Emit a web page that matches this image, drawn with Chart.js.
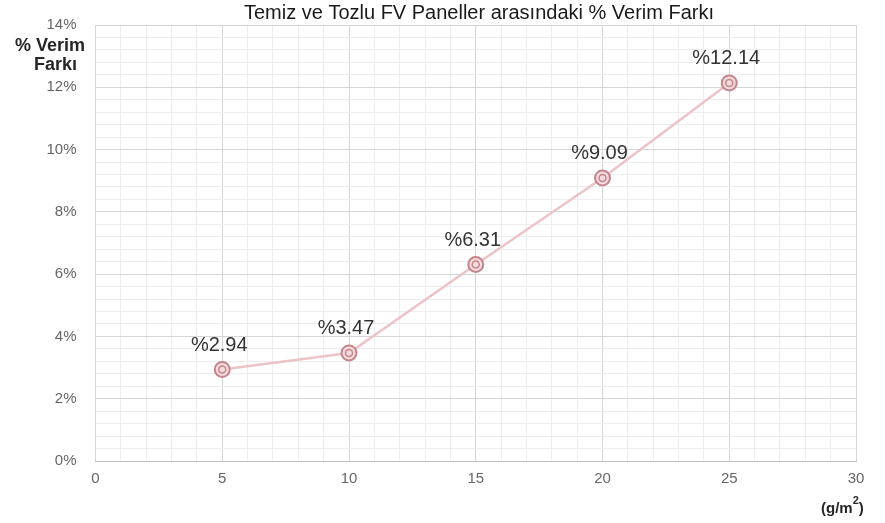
<!DOCTYPE html>
<html>
<head>
<meta charset="utf-8">
<script src="https://cdn.jsdelivr.net/npm/chart.js@4/dist/chart.umd.min.js"></script>
<style>
  html, body { margin: 0; padding: 0; background: #fff; }
  #wrap { width: 885px; height: 523px; }
</style>
</head>
<body>
<div id="wrap"><canvas id="chart"></canvas></div>
<script>
// Dust density (g/m2) vs. efficiency difference (%)
const dustLevels = [5, 10, 15, 20, 25];
const efficiencyDiff = [2.94, 3.47, 6.31, 9.09, 12.14];
const valueLabels = ['%2.94', '%3.47', '%6.31', '%9.09', '%12.14'];

const chartTitle = 'Temiz ve Tozlu FV Paneller arasındaki % Verim Farkı';
const yTitle = ['% Verim', 'Farkı'];
const xTitle = '(g/m';

const points = dustLevels.map((x, i) => ({ x, y: efficiencyDiff[i] }));

const isMultiple = (v, step) => Math.abs(v / step - Math.round(v / step)) < 1e-6;
const FONT = '"Liberation Sans", Arial, sans-serif';

// Title, axis captions and value labels drawn on the canvas
const textPlugin = {
  id: 'texts',
  afterDatasetsDraw(chart) {
    const ctx = chart.ctx;
    ctx.save();
    ctx.fillStyle = '#1a1a1a';
    ctx.font = '20px ' + FONT;
    ctx.textAlign = 'center';
    ctx.textBaseline = 'middle';
    ctx.fillText(chartTitle, 479, 13);

    ctx.fillStyle = '#262626';
    ctx.font = 'bold 18px ' + FONT;
    ctx.textAlign = 'right';
    ctx.fillText(yTitle[0], 85, 46);
    ctx.fillText(yTitle[1], 77, 65);

    ctx.textAlign = 'left';
    ctx.font = 'bold 15px ' + FONT;
    ctx.fillText(xTitle, 821, 509);
    const w = ctx.measureText(xTitle).width;
    ctx.font = 'bold 11px ' + FONT;
    ctx.fillText('2', 821 + w, 501);
    ctx.font = 'bold 15px ' + FONT;
    ctx.fillText(')', 821 + w + 6, 509);

    const meta = chart.getDatasetMeta(0);
    ctx.fillStyle = '#333333';
    ctx.font = '20px ' + FONT;
    ctx.textAlign = 'center';
    meta.data.forEach((pt, i) => {
      ctx.fillText(valueLabels[i], pt.x - 3, pt.y - 24);
    });
    ctx.restore();
  }
};

new Chart(document.getElementById('chart'), {
  type: 'scatter',
  data: {
    datasets: [
      {
        data: points,
        order: 1,
        showLine: true,
        borderColor: '#ecc3c6',
        borderWidth: 2.5,
        pointRadius: 7.5,
        pointBorderWidth: 2,
        pointBorderColor: '#c4858b',
        pointBackgroundColor: '#f3dadd'
      },
      {
        data: points,
        order: 0,
        showLine: false,
        pointRadius: 3.5,
        pointBorderWidth: 1.5,
        pointBorderColor: '#c4858b',
        pointBackgroundColor: '#f3dadd'
      }
    ]
  },
  options: {
    responsive: true,
    maintainAspectRatio: false,
    animation: false,
    layout: { padding: { left: 0, top: 25, right: 29, bottom: 0 } },
    plugins: {
      legend: { display: false },
      tooltip: { enabled: false },
      title: { display: false }
    },
    scales: {
      x: {
        type: 'linear',
        min: 0,
        max: 30,
        afterFit: s => {
          s.height = 62;
          s.paddingLeft = 0;
          s.paddingRight = 0;
        },
        border: { color: '#bfbfbf' },
        grid: {
          color: c => isMultiple(c.tick.value, 5) ? '#d6d6d6' : '#ededed',
          drawTicks: false
        },
        ticks: {
          stepSize: 1,
          autoSkip: false,
          maxRotation: 0,
          maxTicksLimit: 100,
          padding: 9,
          color: '#666666',
          font: { family: FONT, size: 15 },
          callback: v => isMultiple(v, 5) ? String(v) : ''
        }
      },
      y: {
        min: 0,
        max: 14,
        afterFit: s => {
          s.width = 95.5;
          s.paddingTop = 0;
          s.paddingBottom = 0;
        },
        border: { display: false },
        grid: {
          color: c => isMultiple(c.tick.value, 2) ? '#d6d6d6' : '#ededed',
          drawTicks: false
        },
        ticks: {
          stepSize: 0.4,
          autoSkip: false,
          maxTicksLimit: 100,
          padding: 19,
          color: '#666666',
          font: { family: FONT, size: 15 },
          callback: v => isMultiple(v, 2) ? Math.round(v) + '%' : ''
        }
      }
    }
  },
  plugins: [textPlugin]
});
</script>
</body>
</html>
